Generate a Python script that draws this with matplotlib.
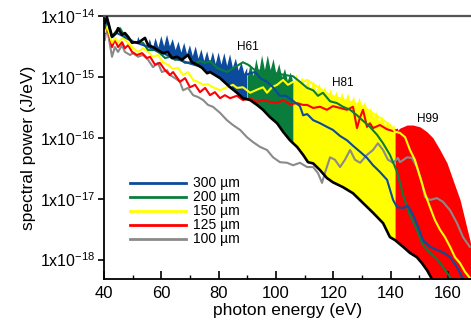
"""
HHG spectra for several thicknesses, with harmonic cut-off regions filled.
"""

import matplotlib
matplotlib.use("Agg")
import matplotlib.pyplot as plt
from matplotlib.ticker import FixedLocator, FuncFormatter, MultipleLocator
import numpy as np

plt.rcParams["font.family"] = ["Liberation Sans", "DejaVu Sans"]
plt.rcParams["mathtext.fontset"] = "custom"
plt.rcParams["mathtext.rm"] = "Liberation Sans"
plt.rcParams["mathtext.default"] = "regular"

# --- data (log10 of spectral power in J/eV) ---
black_x = [40.3, 41.0, 42.8, 44.5, 44.9, 46.3, 47.3, 48.4, 49.8, 50.8, 51.9, 54.3, 55.4, 57.1,
           58.8, 60.6, 62.3, 63.7, 65.5, 67.2, 69.3, 70.7, 72.5, 74.2, 76.0, 77.0, 80.5, 84.0,
           86.4, 88.5, 91.0, 93.4, 95.5, 97.9, 100.4, 102.5, 104.9, 107.4, 109.5, 111.2, 113.0,
           115.4, 117.8, 119.9, 123.4, 126.9, 130.4, 133.9, 137.4, 139.8, 141.6, 144.4, 146.8,
           149.2, 151.0, 152.7, 154.5, 157.0, 170.0]
black_y = [-14.11, -14.02, -14.34, -14.26, -14.20, -14.31, -14.28, -14.34, -14.44, -14.43, -14.44,
           -14.36, -14.48, -14.51, -14.56, -14.61, -14.59, -14.69, -14.67, -14.72, -14.64, -14.76,
           -14.80, -14.85, -14.94, -14.92, -15.02, -15.17, -15.26, -15.35, -15.38, -15.46, -15.54,
           -15.66, -15.76, -15.90, -16.04, -16.15, -16.28, -16.40, -16.42, -16.53, -16.66, -16.73,
           -16.81, -16.91, -17.07, -17.23, -17.40, -17.63, -17.68, -17.79, -17.89, -17.96, -18.06,
           -18.17, -18.32, -18.70, -20.0]

# filled harmonic spectra (1 eV sampling, peaks / troughs)
blue_fill_x = list(range(48, 91))
blue_fill_y = [-14.42, -14.55, -14.38, -14.52, -14.34, -14.50, -14.36, -14.53, -14.38, -14.55,
               -14.36, -14.52, -14.33, -14.50, -14.31, -14.50, -14.38, -14.56, -14.42, -14.60,
               -14.44, -14.63, -14.48, -14.66, -14.50, -14.70, -14.55, -14.74, -14.58, -14.77,
               -14.59, -14.79, -14.60, -14.80, -14.61, -14.82, -14.63, -14.85, -14.70, -14.90,
               -14.76, -14.95, -14.85]
green_fill_x = list(range(90, 107))
green_fill_y = [-15.00, -14.78, -14.98, -14.70, -14.92, -14.64, -14.88, -14.64, -14.88, -14.70,
                -14.94, -14.78, -15.00, -14.86, -15.06, -14.92, -15.10]
yellow_fill_x = list(range(106, 143))
yellow_fill_y = [-15.12, -14.95, -15.12, -14.99, -15.16, -15.03, -15.20, -15.06, -15.23, -15.10,
                 -15.27, -15.15, -15.32, -15.19, -15.36, -15.23, -15.40, -15.25, -15.42, -15.26,
                 -15.44, -15.31, -15.48, -15.33, -15.50, -15.40, -15.58, -15.50, -15.66, -15.57,
                 -15.73, -15.64, -15.80, -15.72, -15.86, -15.78, -15.90]
red_fill_x = [141.6, 143.3, 145.8, 147.9, 150.3, 152.7, 154.8, 157.3, 159.7, 161.8, 164.3, 166.0,
              167.7, 169.5]
red_fill_y = [-15.92, -15.84, -15.79, -15.79, -15.82, -15.90, -16.00, -16.20, -16.41, -16.69,
              -17.02, -17.35, -17.68, -18.04]

# smoothed spectra
x300 = [40.3, 41.0, 42.8, 44.5, 46.6, 48.4, 50.1, 52.0, 55.0, 60.0, 65.0, 70.0, 75.0, 80.0, 85.0,
        88.0, 91.0, 92.7, 94.5, 96.9, 99.0, 101.4, 103.5, 105.6, 108.4, 109.5, 110.9, 113.0,
        115.4, 117.8, 119.9, 122.4, 124.8, 126.9, 129.4, 131.8, 133.9, 136.3, 138.8, 140.9,
        142.3, 144.4, 146.1, 147.9, 149.6, 151.3, 153.8, 156.2, 158.3, 160.8, 163.2, 165.0, 166.4]
y300 = [-14.20, -14.05, -14.35, -14.28, -14.33, -14.38, -14.42, -14.45, -14.50, -14.60, -14.70,
        -14.78, -14.85, -14.92, -14.98, -15.00, -14.94, -14.92, -15.02, -15.08, -15.17, -15.31,
        -15.31, -15.38, -15.48, -15.63, -15.61, -15.71, -15.76, -15.82, -15.87, -15.97, -16.04,
        -16.13, -16.23, -16.33, -16.45, -16.56, -16.69, -17.02, -17.14, -17.15, -17.12, -17.27,
        -17.46, -17.68, -17.79, -17.84, -17.88, -17.96, -18.12, -18.29, -18.42]

x200 = [40.3, 41.0, 42.8, 44.5, 45.6, 46.6, 48.4, 50.1, 51.9, 53.6, 55.4, 57.8, 59.5, 61.3, 63.0,
        64.8, 66.5, 68.3, 70.0, 71.8, 73.5, 75.3, 77.0, 79.4, 82.9, 86.4, 88.5, 90.3, 92.7, 97.9,
        103.2, 106.0, 108.4, 110.9, 113.0, 114.7, 116.4, 118.9, 121.3, 123.4, 125.9, 128.3,
        130.4, 132.8, 135.3, 137.4, 139.8, 142.3, 144.4, 146.8, 149.2, 151.3, 153.8, 156.2,
        158.3, 160.8, 162.5]
y200 = [-14.18, -14.03, -14.34, -14.23, -14.20, -14.28, -14.36, -14.43, -14.43, -14.44, -14.56,
        -14.56, -14.61, -14.69, -14.67, -14.72, -14.71, -14.77, -14.76, -14.79, -14.74, -14.77,
        -14.74, -14.85, -14.92, -14.82, -14.76, -14.80, -14.89, -14.92, -14.97, -14.99, -15.08,
        -15.18, -15.22, -15.31, -15.26, -15.40, -15.43, -15.49, -15.54, -15.63, -15.72, -15.82,
        -15.95, -16.09, -16.28, -16.56, -16.94, -17.27, -17.51, -17.76, -17.89, -17.99, -18.12,
        -18.29, -18.42]

x150 = [40.3, 41.0, 42.8, 43.8, 44.9, 46.6, 48.4, 50.1, 51.9, 53.6, 55.4, 57.1, 58.8, 60.6, 62.3,
        64.1, 65.8, 67.6, 69.3, 71.1, 72.8, 74.6, 76.3, 78.0, 80.5, 82.9, 85.0, 86.4, 88.5, 91.0,
        93.4, 95.5, 96.9, 98.6, 100.4, 102.5, 104.2, 106.0, 108.4, 110.9, 118.9, 129.4, 136.3,
        139.8, 141.6, 143.3, 145.1, 146.8, 148.5, 150.3, 152.0, 153.8, 155.5, 157.3, 159.0,
        160.8, 162.5, 164.3, 166.0, 167.7, 169.5]
y150 = [-14.26, -14.15, -14.44, -14.36, -14.43, -14.36, -14.44, -14.53, -14.59, -14.53, -14.59,
        -14.67, -14.64, -14.76, -14.80, -14.87, -14.85, -14.97, -14.92, -15.05, -15.08, -15.13,
        -15.12, -15.17, -15.22, -15.17, -15.13, -15.18, -15.17, -15.26, -15.21, -15.17, -15.26,
        -15.17, -15.13, -15.05, -15.13, -15.08, -15.10, -15.05, -15.30, -15.46, -15.67, -15.79,
        -15.90, -15.92, -15.99, -16.20, -16.36, -16.64, -16.91, -17.14, -17.35, -17.51, -17.63,
        -17.79, -17.96, -18.06, -18.20, -18.30, -18.42]

x125 = [40.3, 41.0, 42.8, 43.8, 44.9, 46.3, 47.3, 48.4, 49.8, 51.5, 53.3, 55.0, 56.1, 57.8, 59.5,
        61.3, 63.0, 64.1, 66.5, 68.3, 70.0, 71.8, 73.5, 75.3, 77.0, 78.7, 80.5, 82.2, 84.0, 86.4,
        88.5, 91.0, 93.4, 95.5, 97.9, 100.4, 102.5, 104.9, 107.4, 109.5, 110.9, 113.0, 115.4,
        117.8, 119.9, 122.4, 124.8, 126.9, 128.3, 129.4, 130.4, 131.8, 132.8, 133.9, 136.3,
        138.8, 140.9, 142.3]
y125 = [-14.28, -14.15, -14.51, -14.39, -14.51, -14.43, -14.53, -14.48, -14.59, -14.64, -14.61,
        -14.69, -14.67, -14.80, -14.77, -14.89, -14.97, -14.92, -15.08, -15.02, -15.17, -15.13,
        -15.25, -15.18, -15.30, -15.25, -15.35, -15.30, -15.35, -15.31, -15.38, -15.35, -15.41,
        -15.38, -15.41, -15.43, -15.38, -15.45, -15.43, -15.46, -15.46, -15.51, -15.49, -15.54,
        -15.48, -15.51, -15.54, -15.49, -15.84, -15.66, -15.54, -15.82, -15.76, -15.84, -15.79,
        -15.86, -15.89, -15.87]

x100 = [40.3, 41.0, 42.8, 43.8, 44.9, 46.3, 47.3, 49.1, 50.1, 51.9, 53.6, 55.4, 57.1, 58.8, 60.2,
        62.0, 63.0, 64.8, 66.5, 67.6, 69.3, 71.1, 72.8, 74.6, 76.3, 78.0, 80.5, 82.9, 85.0, 87.5,
        89.9, 92.0, 94.5, 96.9, 99.0, 101.4, 103.9, 106.0, 108.4, 110.9, 113.0, 114.7, 116.1,
        117.1, 118.9, 120.6, 122.4, 124.1, 125.9, 127.6, 129.4, 131.8, 133.9, 135.6, 137.4,
        139.1, 140.9, 142.6, 143.3, 145.8, 147.5, 149.2, 151.0, 152.0, 153.8, 156.2, 158.3,
        160.8, 163.2, 165.3, 167.7]
y100 = [-14.39, -14.18, -14.67, -14.51, -14.59, -14.48, -14.59, -14.64, -14.61, -14.67, -14.64,
        -14.72, -14.84, -14.77, -14.92, -14.89, -14.97, -15.02, -15.08, -15.22, -15.18, -15.30,
        -15.33, -15.38, -15.46, -15.49, -15.59, -15.71, -15.79, -15.87, -15.99, -16.07, -16.15,
        -16.20, -16.32, -16.40, -16.41, -16.45, -16.41, -16.48, -16.48, -16.58, -16.74, -16.58,
        -16.32, -16.36, -16.48, -16.36, -16.20, -16.36, -16.41, -16.28, -16.20, -16.09, -16.20,
        -16.36, -16.41, -16.33, -16.40, -16.32, -16.33, -16.48, -16.74, -16.97, -17.02, -16.99,
        -17.05, -17.19, -17.40, -17.63, -17.79]

labels = ["300 µm", "200 µm", "150 µm", "125 µm", "100 µm"]
harmonics = [("H61", 90.3, -14.51), ("H81", 123.4, -15.10), ("H99", 153.1, -15.69)]

c_blue = "#0b4a9c"
c_green = "#0a7d3c"
c_yellow = "#ffff00"
c_red = "#ff0000"
c_grey = "#8a8a8a"

fig = plt.figure(figsize=(4.71, 3.26), dpi=100)
ax = fig.add_axes([104 / 471, 47 / 326, 367 / 471, 263 / 326])

bx = np.array(black_x)
by = np.array(black_y)


def fill_region(xs, ys, color):
    xs = np.array(xs, dtype=float)
    top = 10.0 ** np.array(ys)
    bottom = 10.0 ** np.interp(xs, bx, by)
    ax.fill_between(xs, bottom, top, where=top >= bottom, interpolate=True,
                    color=color, linewidth=0, zorder=1)


fill_region(blue_fill_x, blue_fill_y, c_blue)
fill_region(green_fill_x, green_fill_y, c_green)
fill_region(yellow_fill_x, yellow_fill_y, c_yellow)
fill_region(red_fill_x, red_fill_y, c_red)

lw = 1.5
ax.plot(x100, 10.0 ** np.array(y100), color=c_grey, lw=lw, zorder=2)
ax.plot(x125, 10.0 ** np.array(y125), color=c_red, lw=lw, zorder=2)
ax.plot(x150, 10.0 ** np.array(y150), color=c_yellow, lw=lw, zorder=2)
ax.plot(x200, 10.0 ** np.array(y200), color=c_green, lw=lw, zorder=2)
ax.plot(x300, 10.0 ** np.array(y300), color=c_blue, lw=lw, zorder=2)
ax.plot(bx, 10.0 ** by, color="black", lw=1.9, zorder=3)

# legend handles only
for lab, col in zip(labels, [c_blue, c_green, c_yellow, c_red, c_grey]):
    ax.plot([], [], color=col, lw=2.0, label=lab)
ax.legend(loc="upper left", bbox_to_anchor=(0.072, 0.39), frameon=False, fontsize=10,
          handlelength=4.0, handletextpad=0.5, labelspacing=0.0, borderpad=0,
          borderaxespad=0)

for name, hx, hy in harmonics:
    ax.text(hx, 10.0 ** hy, name, fontsize=8.5, ha="center", va="center", zorder=4)

ax.set_yscale("log")
ax.set_xlim(40, 40 + 367 / 2.865)
ax.set_ylim(10.0 ** -18.318, 10.0 ** -14)

ax.yaxis.set_major_locator(FixedLocator([1e-14, 1e-15, 1e-16, 1e-17, 1e-18]))
ax.yaxis.set_minor_locator(FixedLocator([]))
ax.yaxis.set_major_formatter(FuncFormatter(lambda v, p: r"1x10$^{%d}$" % round(np.log10(v))))
ax.xaxis.set_major_locator(MultipleLocator(20))
ax.xaxis.set_minor_locator(MultipleLocator(10))

ax.tick_params(axis="y", which="major", direction="out", length=4, width=1.2, pad=2, labelsize=11.5)
ax.tick_params(axis="x", which="major", direction="in", length=6, width=1.2, pad=5, labelsize=12)
ax.tick_params(axis="x", which="minor", direction="in", length=3, width=1.0)

ax.spines["right"].set_visible(False)
ax.spines["top"].set_color("#555555")
ax.spines["top"].set_linewidth(1.6)
ax.spines["left"].set_linewidth(1.3)
ax.spines["bottom"].set_linewidth(1.3)

ax.set_xlabel("photon energy (eV)", fontsize=12.5)
ax.xaxis.set_label_coords(0.5, -24 / 263)
ax.set_ylabel("spectral power (J/eV)", fontsize=12.5)
ax.yaxis.set_label_coords(-68 / 367, 0.5)

fig.savefig("out.png", dpi=100)
